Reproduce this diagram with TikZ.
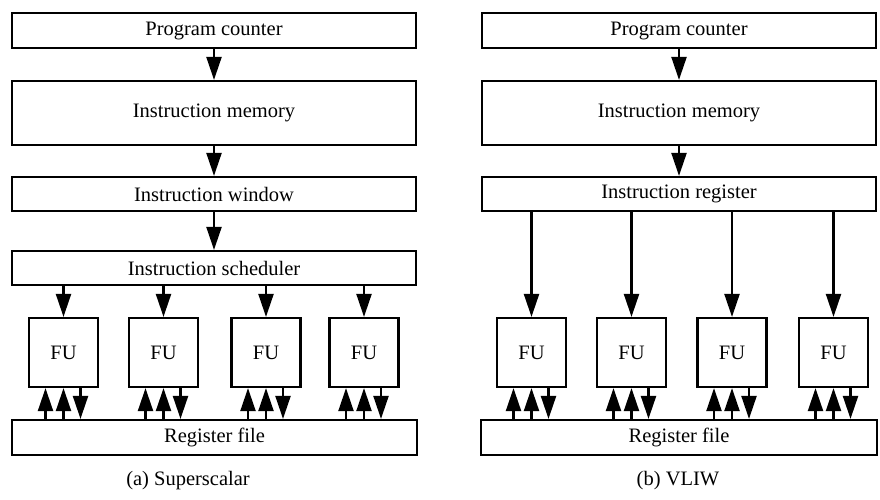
\documentclass[tikz,border=0pt]{standalone}
\usepackage{fontspec}
\setmainfont{Liberation Serif}
\usetikzlibrary{arrows.meta,calc}
\begin{document}
\begin{tikzpicture}[x=1pt,y=-1pt,
  box/.style={draw,line width=2.2pt,inner sep=0pt,font=\fontsize{20.5}{24}\selectfont},
  fu/.style={box,minimum width=69pt,minimum height=69pt},
  arr/.style={line width=2.2pt,-{Triangle[length=23pt,width=15pt]}},
  captext/.style={font=\fontsize{20.5}{24}\selectfont}]
\useasboundingbox (0,0) rectangle (880,499);

% ---- (a) Superscalar ----
\node[box,minimum width=404pt,minimum height=35pt] (pcA) at (214,30.5) {Program counter};
\node[box,minimum width=404pt,minimum height=64pt] (imA) at (214,113) {Instruction memory};
\node[box,minimum width=404pt,minimum height=34pt] (iwA) at (214,194) {Instruction window};
\node[box,minimum width=404pt,minimum height=34pt] (isA) at (214,268) {Instruction scheduler};
\node[fu] (fuA1) at (63.5,352.5) {FU};
\node[fu] (fuA2) at (163.5,352.5) {FU};
\node[fu] (fuA3) at (266,352.5) {FU};
\node[fu] (fuA4) at (364,352.5) {FU};
\node[box,minimum width=405pt,minimum height=35pt] (rfA) at (214.5,437.5) {Register file};
\node[captext] (capA) at (188,481) {(a) Superscalar};

\draw[arr] (pcA) -- (imA);
\draw[arr] (imA) -- (iwA);
\draw[arr] (iwA) -- (isA);
\foreach \i in {1,...,4}{
  \draw[arr] (isA.south -| fuA\i.north) -- (fuA\i.north);
  \draw[arr] ([xshift=-18pt]fuA\i.south |- rfA.north) -- ([xshift=-18pt]fuA\i.south);
  \draw[arr] (fuA\i.south |- rfA.north) -- (fuA\i.south);
  \draw[arr] ([xshift=17pt]fuA\i.south) -- ([xshift=17pt]fuA\i.south |- rfA.north);
}

% ---- (b) VLIW ----
\node[box,minimum width=394pt,minimum height=35pt] (pcB) at (679,30.5) {Program counter};
\node[box,minimum width=394pt,minimum height=64pt] (imB) at (679,113) {Instruction memory};
\node[box,minimum width=394pt,minimum height=34pt] (irB) at (679,194) {Instruction register};
\node[fu] (fuB1) at (531.5,352.5) {FU};
\node[fu] (fuB2) at (631.5,352.5) {FU};
\node[fu] (fuB3) at (732,352.5) {FU};
\node[fu] (fuB4) at (833.5,352.5) {FU};
\node[box,minimum width=396pt,minimum height=35pt] (rfB) at (679,437.5) {Register file};
\node[captext] (capB) at (678,481) {(b) VLIW};

\draw[arr] (pcB) -- (imB);
\draw[arr] (imB) -- (irB);
\foreach \i in {1,...,4}{
  \draw[arr] (irB.south -| fuB\i.north) -- (fuB\i.north);
  \draw[arr] ([xshift=-18pt]fuB\i.south |- rfB.north) -- ([xshift=-18pt]fuB\i.south);
  \draw[arr] (fuB\i.south |- rfB.north) -- (fuB\i.south);
  \draw[arr] ([xshift=17pt]fuB\i.south) -- ([xshift=17pt]fuB\i.south |- rfB.north);
}
\end{tikzpicture}
\end{document}
